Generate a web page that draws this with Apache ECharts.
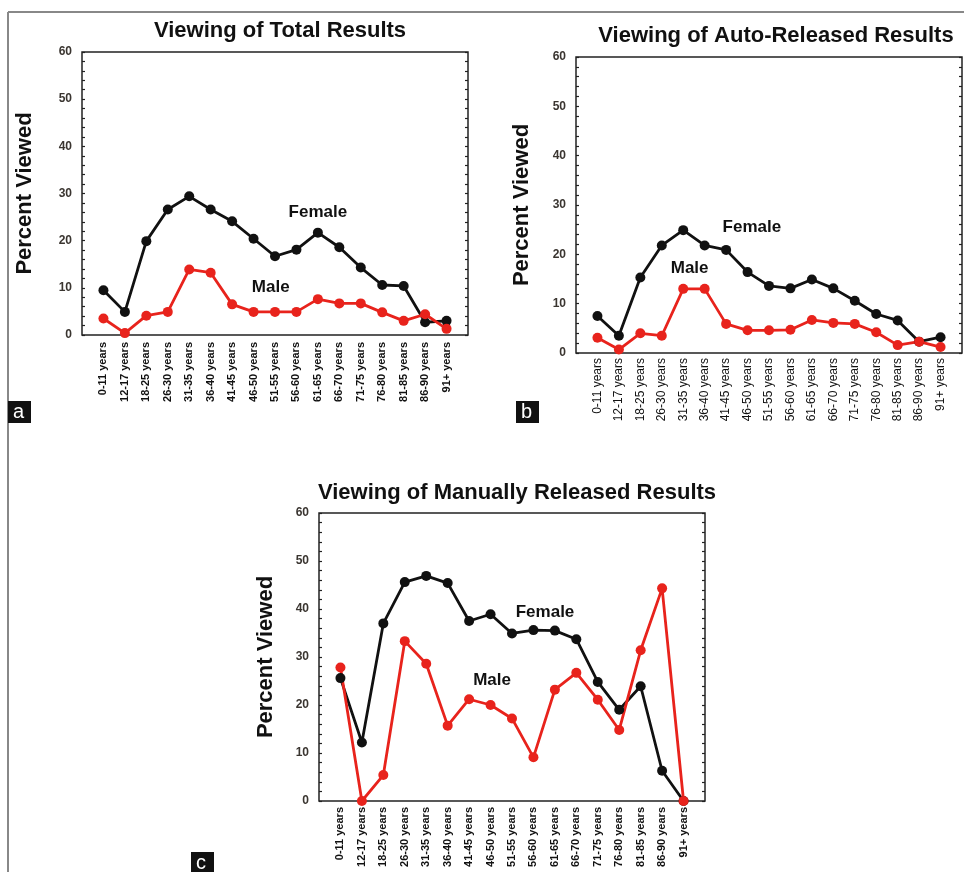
<!DOCTYPE html>
<html>
<head>
<meta charset="utf-8">
<script src="https://cdn.jsdelivr.net/npm/echarts@6/dist/echarts.min.js"></script>
<style>
html,body{margin:0;padding:0;background:#fff;}
#chart{width:964px;height:872px;}
</style>
</head>
<body>
<div id="chart"></div>
<script>
// age groups (x axis)
var ageGroups = ['0-11 years', '12-17 years', '18-25 years', '26-30 years', '31-35 years', '36-40 years',
	'41-45 years', '46-50 years', '51-55 years', '56-60 years', '61-65 years', '66-70 years',
	'71-75 years', '76-80 years', '81-85 years', '86-90 years', '91+ years'];

// y axis ticks
var yTicks = [0, 10, 20, 30, 40, 50, 60];

// a - total results
var totalFemale = [9.5, 4.9, 19.9, 26.6, 29.4, 26.6, 24.1, 20.4, 16.7, 18.1, 21.7, 18.6, 14.3, 10.6, 10.4, 2.7, 3.0];
var totalMale = [3.5, 0.4, 4.1, 4.9, 13.9, 13.2, 6.5, 4.9, 4.9, 4.9, 7.6, 6.7, 6.7, 4.8, 3.0, 4.4, 1.3];

// b - auto-released results
var autoFemale = [7.5, 3.5, 15.3, 21.8, 24.9, 21.8, 20.9, 16.4, 13.6, 13.1, 14.9, 13.1, 10.6, 7.9, 6.6, 2.3, 3.2];
var autoMale = [3.1, 0.7, 4.0, 3.5, 13.0, 13.0, 5.9, 4.6, 4.6, 4.7, 6.7, 6.1, 5.9, 4.2, 1.6, 2.3, 1.2];

// c - manually released results
var manualFemale = [25.6, 12.2, 37.0, 45.6, 46.9, 45.4, 37.5, 38.9, 34.9, 35.6, 35.5, 33.7, 24.8, 19.0, 23.9, 6.3, 0];
var manualMale = [27.8, 0, 5.4, 33.3, 28.6, 15.7, 21.2, 20.0, 17.2, 9.1, 23.2, 26.7, 21.1, 14.8, 31.4, 44.3, 0];

var font = "'Liberation Sans', Arial, sans-serif";

var panels = [
	{title: 'Viewing of Total Results', female: totalFemale, male: totalMale,
		grid: {left: 82, top: 52, width: 386, height: 283}, titlePos: [275, 15],
		nameGap: 46, lab: {size: 11, weight: 'bold', margin: 7},
		femaleAt: [10, 26.1], maleAt: [7.8, 10.2]},
	{title: 'Viewing of Auto-Released Results', female: autoFemale, male: autoMale,
		grid: {left: 576, top: 57, width: 386, height: 296}, titlePos: [771, 20],
		nameGap: 43, lab: {size: 12, weight: 'normal', margin: 5},
		femaleAt: [7.2, 25.5], maleAt: [4.3, 17.2]},
	{title: 'Viewing of Manually Released Results', female: manualFemale, male: manualMale,
		grid: {left: 319, top: 513, width: 386, height: 288}, titlePos: [512, 477],
		nameGap: 42, lab: {size: 11, weight: 'bold', margin: 6},
		femaleAt: [9.54, 39.4], maleAt: [7.07, 25.2]}
];

function toPoints(arr){
	return arr.map(function(v, i){ return [i, v]; });
}

function note(text, at){
	return {
		symbol: 'circle', symbolSize: 1, silent: true,
		itemStyle: {color: 'rgba(0,0,0,0)'},
		label: {show: true, position: 'inside', formatter: text, color: '#111',
			fontFamily: font, fontWeight: 'bold', fontSize: 17},
		data: [{coord: at}]
	};
}

var option = {
	backgroundColor: '#fff',
	animation: false,
	title: [],
	grid: [],
	xAxis: [],
	yAxis: [],
	series: [],
	graphic: []
};

panels.forEach(function(p, k){
	option.title.push({
		text: p.title, left: p.titlePos[0], top: p.titlePos[1], textAlign: 'center',
		textStyle: {fontFamily: font, fontWeight: 'bold', fontSize: 22, color: '#111'}
	});
	option.grid.push({
		left: p.grid.left, top: p.grid.top, width: p.grid.width, height: p.grid.height,
		show: true, borderColor: '#222', borderWidth: 1.5, backgroundColor: '#fff'
	});
	option.xAxis.push({
		type: 'value', gridIndex: k, min: -1, max: 17, interval: 1,
		axisLine: {show: false, onZero: false}, axisTick: {show: false}, splitLine: {show: false},
		axisLabel: {
			rotate: 90, margin: p.lab.margin, fontFamily: font, fontSize: p.lab.size,
			fontWeight: p.lab.weight, color: '#111',
			showMinLabel: true, showMaxLabel: true,
			formatter: function(v){ return ageGroups[v] || ''; }
		}
	});
	var yBase = {
		type: 'value', gridIndex: k, min: yTicks[0], max: yTicks[yTicks.length - 1], interval: 10,
		axisLine: {show: false, onZero: false}, splitLine: {show: false},
		axisTick: {show: true, inside: true, length: 3, lineStyle: {color: '#222', width: 1.2}},
		minorTick: {show: true, splitNumber: 5, length: 3, lineStyle: {color: '#222', width: 1.2}}
	};
	option.yAxis.push(Object.assign({}, yBase, {
		position: 'left',
		name: 'Percent Viewed', nameLocation: 'middle', nameGap: p.nameGap,
		nameTextStyle: {fontFamily: font, fontWeight: 'bold', fontSize: 22, color: '#111'},
		axisLabel: {margin: 10, fontFamily: font, fontSize: 12, fontWeight: 'bold', color: '#3a3530'}
	}));
	option.yAxis.push(Object.assign({}, yBase, {
		position: 'right', axisLabel: {show: false}
	}));
	option.series.push({
		name: 'Female', type: 'line', xAxisIndex: k, yAxisIndex: k * 2,
		data: toPoints(p.female), symbol: 'circle', symbolSize: 10,
		lineStyle: {color: '#111', width: 2.8}, itemStyle: {color: '#111'},
		markPoint: note('Female', p.femaleAt)
	});
	option.series.push({
		name: 'Male', type: 'line', xAxisIndex: k, yAxisIndex: k * 2,
		data: toPoints(p.male), symbol: 'circle', symbolSize: 10,
		lineStyle: {color: '#e8231c', width: 2.8}, itemStyle: {color: '#e8231c'},
		markPoint: note('Male', p.maleAt)
	});
});

// frame lines and panel letters
option.graphic = [
	{type: 'line', shape: {x1: 8, y1: 12, x2: 964, y2: 12}, style: {stroke: '#888', lineWidth: 2}},
	{type: 'line', shape: {x1: 8, y1: 12, x2: 8, y2: 872}, style: {stroke: '#888', lineWidth: 2}}
];
[['a', 8, 401], ['b', 516, 401], ['c', 191, 852]].forEach(function(t){
	option.graphic.push({type: 'rect', left: t[1], top: t[2], shape: {width: 23, height: 22}, style: {fill: '#111'}});
	option.graphic.push({type: 'text', left: t[1] + 5, top: t[2] + 1,
		style: {text: t[0], fill: '#fff', font: '20px ' + font}});
});

var myChart = echarts.init(document.getElementById('chart'));
myChart.setOption(option, true);
</script>
</body>
</html>
